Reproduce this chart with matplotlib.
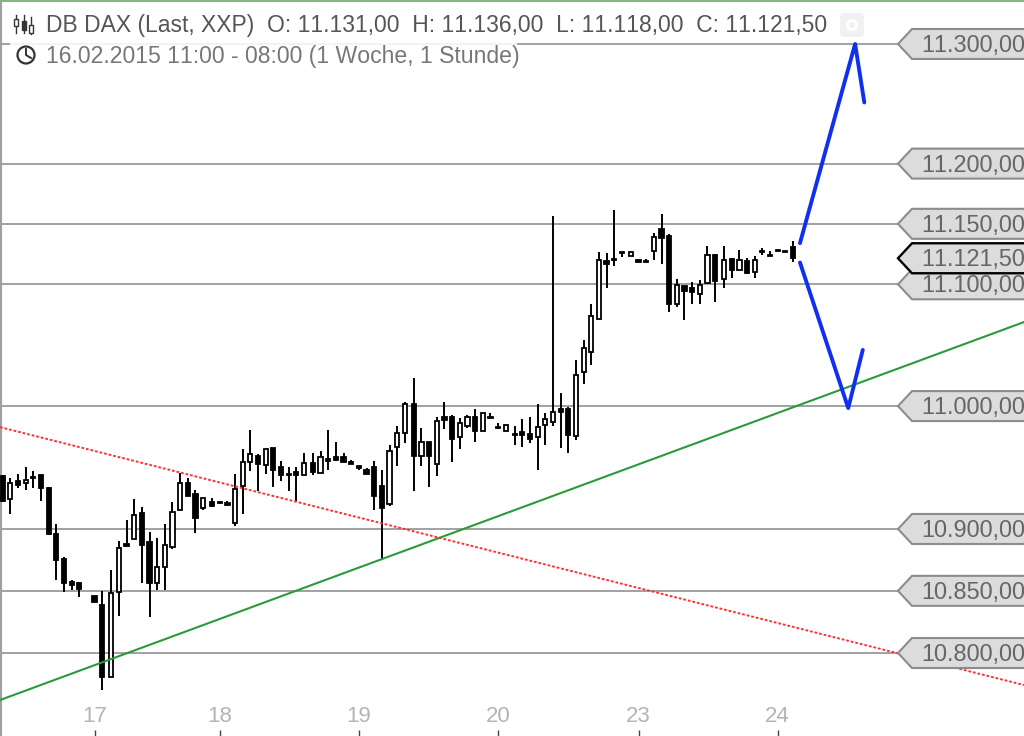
import numpy as np
import matplotlib
matplotlib.use("Agg")
from matplotlib import pyplot as plt
from matplotlib.patches import Circle, FancyBboxPatch, Polygon, Rectangle

plt.rcParams['font.family'] = ['Liberation Sans', 'DejaVu Sans']
plt.rcParams['text.kerning_factor'] = 10

nan = float('nan')

# hourly DB DAX candles (nan = no candle in that hour)
opens = [10943, 10924.5, 10939, 10937, 10942, 10943.5, 10933.5, 10896, 10876, 10857.5, 10856, nan, 10846,
         10839, 10781, 10849, 10888, 10892, 10913, 10889.5, 10856.5, 10869, 10885.5, 10915, 10937.5, 10928,
         10917, 10922, 10921.6, 10920.8, 10904.6, 10935, 10954, 10959, 10952, 10965.4, 10950.4, 10945, 10946.3,
         10943.9, 10953.7, 10945.5, 10957, 10958.6, 10958.6, 10954.2, 10951, 10947.7, 10950.4, 10935, 10920,
         10967, 10978, 11002, 10959, 10970.8, 10953, 10991, 10991, 10975, 10984, 10991, 10979.6, 10990.7, 10983,
         10979.6, 10977, 10978.7, 10977, 10975, 10984.5, 10987, 10997.5, 10997.5, 10975.4, 11027.9, 11044.6,
         11071.6, 11118.9, 11120.5, 11126.5, 11123, 11120.3, 11119.2, 11127.9, 11145.7, 11140.2, 11083.6, 11099,
         11097.3, 11091.6, 11101, 11124.3, 11104, 11120.8, 11112, 11118.9, 11110.4, 11127.9, 11124.6, 11128.2,
         11127.9, 11131]
highs = [10944, 10941, 10945, 10950, 10947, 10943.5, 10934, 10904, 10877.5, 10859, 10857.5, nan, 10846,
         10850, 10867, 10890, 10907, 10924, 10918, 10897.5, 10893, 10904, 10922, 10945.6, 10941, 10931.5,
         10925, 10925, 10921.6, 10922.6, 10945, 10965, 10980.7, 10960.5, 10964.6, 10966, 10955.3, 10950.4, 10950.4,
         10961.8, 10961.8, 10963.5, 10980.4, 10971, 10961.8, 10955.9, 10951, 10949.9, 10955.3, 10947.7, 10968,
         10983.6, 11003.5, 11022.6, 10981.7, 10970.8, 10991, 11003.5, 10992.6, 10990, 10992.6, 10997.3, 10994,
         10994.5, 10985.8, 10984.5, 10983.6, 10989.6, 10991, 11002, 10994.5, 11156.6, 11011, 10999.5, 11038,
         11054, 11083.4, 11127, 11125.7, 11161.2, 11126.5, 11126.3, 11120.3, 11121, 11142.4, 11158, 11141.6,
         11104.7, 11099, 11102, 11103.3, 11131.5, 11125, 11131.5, 11121.9, 11128.5, 11121.9, 11123, 11129.8,
         11127.4, 11128.2, 11127.9, 11136]
lows = [10922, 10912, 10933.5, 10932, 10933, 10923, 10895, 10859, 10849, 10851, 10845, nan, 10841,
        10770, 10781, 10830, 10886, 10892, 10856.5, 10829, 10851, 10851, 10884, 10915, 10927, 10896.5,
        10915, 10918.6, 10921, 10919.7, 10902.4, 10912, 10947, 10930.7, 10945, 10934, 10939, 10931, 10923,
        10943.6, 10943.6, 10945.5, 10948, 10955.3, 10954.5, 10953, 10948, 10945, 10915.5, 10874.6, 10918.8,
        10951, 10970, 10931, 10951, 10934, 10943.3, 10981, 10954.5, 10965, 10982, 10971, 10979.6, 10990, 10981,
        10979.6, 10968, 10966.8, 10970, 10948, 10968, 10984, 10965.4, 10961.8, 10972.7, 11018, 11033.6,
        11071.6, 11097.3, 11114.8, 11122.4, 11123, 11118, 11118, 11119.7, 11116.4, 11077.3, 11080.9, 11071,
        11083.6, 11083.6, 11101, 11085.5, 11097.3, 11105.5, 11112, 11108.8, 11105.2, 11123.8, 11123, 11127.6,
        11126.5, 11118]
closes = [10923, 10937.5, 10936, 10940, 10941, 10933.5, 10896, 10875, 10856.5, 10855, 10851.6, nan, 10841,
          10781, 10848.4, 10885, 10886, 10911, 10887, 10856, 10869.5, 10887, 10914, 10937.5, 10927, 10909,
          10925, 10918.6, 10921, 10919.7, 10932.6, 10954, 10960.5, 10952.4, 10964.6, 10948, 10943.6, 10943.6, 10943.6,
          10953.7, 10946.3, 10958.3, 10954.8, 10955.9, 10954.5, 10953, 10949.6, 10945, 10926.7, 10917, 10963,
          10978, 11002, 10959, 10970.8, 10959, 10988, 10988.5, 10973, 10986.4, 10990.7, 10979.6, 10994, 10990,
          10982, 10984.5, 10976, 10976.3, 10973.3, 10983, 10989.4, 10995.4, 10995, 10976.6, 11025.4, 11047.3,
          11073.8, 11120.3, 11117, 11119.7, 11125.7, 11126.3, 11118, 11118, 11139.4, 11138.3, 11084, 11099.2,
          11094.6, 11093.5, 11099.2, 11123.8, 11102.5, 11120.3, 11112, 11120.3, 11109.6, 11120.3, 11126.3,
          11123.5, 11127.6, 11126.5, 11121.5]

# the chart leaves a small extra step at these candles
step_candles = [14, 27, 40, 53, 66, 81, 93]

day_candles = [12, 28, 46, 64, 82, 100]
day_labels = ["17", "18", "19", "20", "23", "24"]

levels = [11300, 11200, 11150, 11100, 11000, 10900, 10850, 10800]
tag_order = [11300, 11200, 11100, 11150, 11000, 10900, 10850, 10800]
last_price = 11121.5

# trend lines and the two drawn scenarios (slot, price)
red_x = [-0.35, 133.35]
red_y = [10982.8, 10774.3]
green_x = [-0.35, 133.35]
green_y = [10762.3, 11068.9]
up_x = [104.1, 111.3, 112.5]
up_y = [11134, 11300, 11251]
down_x = [104.1, 110.4, 112.3]
down_y = [11118, 10998.4, 11046]

title_line = "DB DAX (Last, XXP)  O: 11.131,00  H: 11.136,00  L: 11.118,00  C: 11.121,50"
range_line = "16.02.2015 11:00 - 08:00 (1 Woche, 1 Stunde)"


def fmt_price(p):
    s = f"{p:,.2f}"
    return s.replace(",", "X").replace(".", ",").replace("X", ".")


def draw_candles(ax, slots):
    for x, o, h, l, c in zip(slots, opens, highs, lows, closes):
        if np.isnan(o):
            continue
        ax.vlines(x, l, h, color='black', lw=1.4, zorder=4)
        face = 'white' if c >= o else 'black'
        ax.bar(x, abs(c - o), bottom=min(o, c), width=0.55, facecolor=face,
               edgecolor='black', lw=1.3, zorder=5)


def draw_tag(ov, y, text, edge='#8c8c8c', lw=1.5):
    pts = [(898, y), (912, y - 15), (1030, y - 15), (1030, y + 15), (912, y + 15)]
    ov.add_patch(Polygon(pts, closed=True, facecolor='#dcdcdc', edgecolor=edge, lw=lw, zorder=3))
    ov.text(921, y + 1.5, text, fontsize=16.9, color='#666666', va='center', ha='left', zorder=4)


def draw_icons(ov):
    # candle icon in the legend
    for x, top, bottom, y0, y1, fill in [(16, 19, 26, 15, 33, 'none'), (24, 21, 30, 15, 33, '#333333'),
                                         (31, 25, 33, 17, 34, 'none')]:
        ov.plot([x, x], [y0, y1], color='#333333', lw=1.0, zorder=6)
        ov.add_patch(Rectangle((x - 2, top), 4, bottom - top, facecolor='white' if fill == 'none' else fill,
                               edgecolor='#333333', lw=1.0, zorder=7))
    # clock icon
    ov.add_patch(Circle((26, 55), 8.5, facecolor='white', edgecolor='#333333', lw=1.6, zorder=6))
    ov.plot([26, 26, 31], [49, 55, 58], color='#333333', lw=1.4, zorder=7)
    # settings button
    ov.add_patch(FancyBboxPatch((842, 15), 20, 20, boxstyle="round,pad=2,rounding_size=4",
                                facecolor='#f1f1f1', edgecolor='none', zorder=6))
    ov.add_patch(Circle((852, 25), 4.5, facecolor='#f1f1f1', edgecolor='white', lw=2.2, zorder=7))


if __name__ == "__main__":
    n = len(opens)
    slots = np.arange(n) + 0.17 * np.searchsorted(step_candles, np.arange(n), side='right')

    fig = plt.figure(figsize=(10.24, 7.36), dpi=100)
    ax = fig.add_axes([0, 0, 1, 1])
    ax.set_yscale('log')
    ax.set_xlim(-0.35, 133.35)
    ax.set_ylim(10733.6, 11337)
    ax.yaxis.set_major_locator(matplotlib.ticker.NullLocator())
    ax.yaxis.set_minor_locator(matplotlib.ticker.NullLocator())
    for side in ['top', 'right', 'bottom']:
        ax.spines[side].set_visible(False)
    ax.spines['left'].set_color('#a0a0a0')
    ax.spines['left'].set_linewidth(3)

    ax.set_xticks(slots[day_candles], day_labels)
    ax.tick_params(axis='x', direction='in', length=4.5, width=1, color='#444444',
                   labelcolor='#b4b4b4', labelsize=16, pad=-21.5)

    # level lines stop at the price tags
    stop = 898 / 1024
    for level in levels:
        ax.axhline(level, xmin=0, xmax=stop, color='#888888', lw=1.1, zorder=2)

    draw_candles(ax, slots)

    ax.plot(green_x, green_y, color='#2a9a3a', lw=1.5, zorder=6)
    ax.plot(red_x, red_y, color='#ff3030', lw=1.4, ls=(0, (1.4, 1.0)), zorder=6)
    ax.plot(up_x, up_y, color='#1030f0', lw=2.8, zorder=7, solid_capstyle='round')
    ax.plot(down_x, down_y, color='#1030f0', lw=2.8, zorder=7, solid_capstyle='round')

    # overlay in picture pixels for legend box and tags
    fig.canvas.draw()
    ov = fig.add_axes([0, 0, 1, 1], facecolor='none')
    ov.set_xlim(0, 1024)
    ov.set_ylim(736, 0)
    ov.axis('off')

    def to_px(price):
        return 736 - ax.transData.transform((0, price))[1]

    ov.add_patch(Rectangle((10, 10), 507, 58, facecolor='white', edgecolor='none', alpha=0.88, zorder=1))
    ov.add_patch(Rectangle((0, 0), 1024, 2, facecolor='#80b880', edgecolor='none', zorder=2))
    for level in tag_order:
        draw_tag(ov, to_px(level), fmt_price(level))
    draw_tag(ov, to_px(last_price), fmt_price(last_price), edge='black', lw=1.7)

    ov.text(46, 25.5, title_line, fontsize=16.5, color='#555555', va='center', ha='left', zorder=6)
    ov.text(46, 56, range_line, fontsize=16.6, color='#777777', va='center', ha='left', zorder=6)
    draw_icons(ov)

    fig.savefig("out.png", dpi=100)
